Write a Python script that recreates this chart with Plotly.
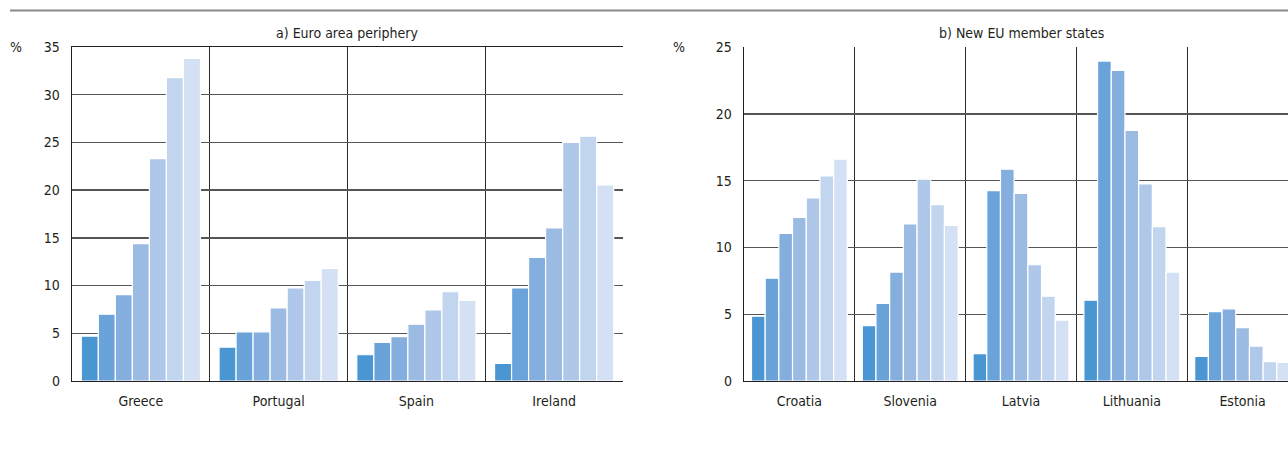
import plotly.graph_objects as go

# ---------------- data ----------------
euro_countries = ["Greece", "Portugal", "Spain", "Ireland"]
greece = [4.7, 7.0, 9.05, 14.4, 23.3, 31.8, 33.8]
portugal = [3.55, 5.15, 5.15, 7.65, 9.75, 10.55, 11.8]
spain = [2.75, 4.05, 4.65, 5.95, 7.45, 9.35, 8.45]
ireland = [1.85, 9.75, 12.95, 16.05, 25.0, 25.65, 20.55]

new_eu_countries = ["Croatia", "Slovenia", "Latvia", "Lithuania", "Estonia"]
croatia = [4.85, 7.7, 11.05, 12.25, 13.7, 15.35, 16.6]
slovenia = [4.15, 5.8, 8.15, 11.75, 15.1, 13.2, 11.65]
latvia = [2.05, 14.25, 15.85, 14.05, 8.7, 6.35, 4.55]
lithuania = [6.05, 23.95, 23.25, 18.75, 14.75, 11.55, 8.15]
estonia = [1.85, 5.2, 5.4, 4.0, 2.6, 1.45, 1.4]

euro_tickvals = [0, 5, 10, 15, 20, 25, 30, 35]
new_eu_tickvals = [0, 5, 10, 15, 20, 25]

series_colors = ["#4A96D2", "#6AA3D9", "#84AEDE", "#9BBBE3", "#AFC8E9",
                 "#C2D5EF", "#D4E0F3"]

euro_table = [greece, portugal, spain, ireland]
new_eu_table = [croatia, slovenia, latvia, lithuania, estonia]

FONT = "DejaVu Sans Condensed, Liberation Sans Narrow, Liberation Sans, sans-serif"
TXT = "#231f20"

fig = go.Figure()

for i, col in enumerate(series_colors):
    fig.add_trace(go.Bar(
        x=euro_countries, y=[row[i] for row in euro_table],
        marker=dict(color=col, line=dict(color="#ffffff", width=1.2)),
        xaxis="x", yaxis="y", showlegend=False, name=f"Series {i+1}",
    ))
    fig.add_trace(go.Bar(
        x=new_eu_countries, y=[row[i] for row in new_eu_table],
        marker=dict(color=col, line=dict(color="#ffffff", width=1.2)),
        xaxis="x2", yaxis="y2", showlegend=False, name=f"Series {i+1}",
    ))

W, H = 1288, 462
top_px, bot_px = 47, 381
left_dom = [72 / W, 623 / W]
right_dom = [744 / W, 1.0]
# right panel continues past the window edge: 5 categories of ~111px
cat_w_right = (1298 - 744) / 5
right_range_end = 4.5 - (1298 - 1288) / cat_w_right

common_x = dict(
    type="category", tickson="boundaries", ticks="", showgrid=True,
    gridcolor="#2a2a2a", gridwidth=1, showline=True, linecolor="#231f20",
    linewidth=1.3, tickfont=dict(family=FONT, size=14, color=TXT),
    ticklabelstandoff=7, zeroline=False, fixedrange=True,
)
common_y = dict(
    ticks="", showgrid=True, gridcolor="#555555", gridwidth=1.4,
    showline=True, linecolor="#231f20", linewidth=1.3,
    tickfont=dict(family=FONT, size=14, color=TXT), ticklabelstandoff=8,
    zeroline=False, fixedrange=True,
)

fig.update_layout(
    width=W, height=H,
    margin=dict(l=0, r=0, t=top_px, b=H - bot_px),
    paper_bgcolor="white", plot_bgcolor="white",
    barmode="group", bargap=0.135, bargroupgap=0,
    font=dict(family=FONT, size=14, color=TXT),
    xaxis=dict(domain=left_dom, anchor="y", range=[-0.5, 3.5], mirror=True,
               **common_x),
    yaxis=dict(domain=[0, 1], anchor="x", range=[0, 35],
               tickvals=euro_tickvals, **common_y),
    xaxis2=dict(domain=right_dom, anchor="y2",
                range=[-0.5, right_range_end], **common_x),
    yaxis2=dict(domain=[0, 1], anchor="x2", range=[0, 25],
                tickvals=new_eu_tickvals, **common_y),
)

ph = bot_px - top_px
def py(px):
    return (bot_px - px) / ph

annots = [
    dict(text="a) Euro area periphery", x=(72 + 623) / 2 / W, y=py(33)),
    dict(text="b) New EU member states", x=(744 + 1298) / 2 / W, y=py(33)),
    dict(text="%", x=16 / W, y=py(47)),
    dict(text="%", x=679 / W, y=py(47)),
]
for a in annots:
    fig.add_annotation(xref="paper", yref="paper", showarrow=False,
                       xanchor="center", yanchor="middle",
                       font=dict(family=FONT, size=14, color=TXT), **a)

fig.add_shape(type="line", xref="paper", yref="paper",
              x0=10 / W, x1=1.0, y0=py(10.5), y1=py(10.5),
              line=dict(color="#8a8a8a", width=2))

fig.write_html(
    "out.html",
    config={"displayModeBar": False, "staticPlot": True},
    post_script="document.body.style.margin='0';document.body.style.overflow='hidden';",
)
